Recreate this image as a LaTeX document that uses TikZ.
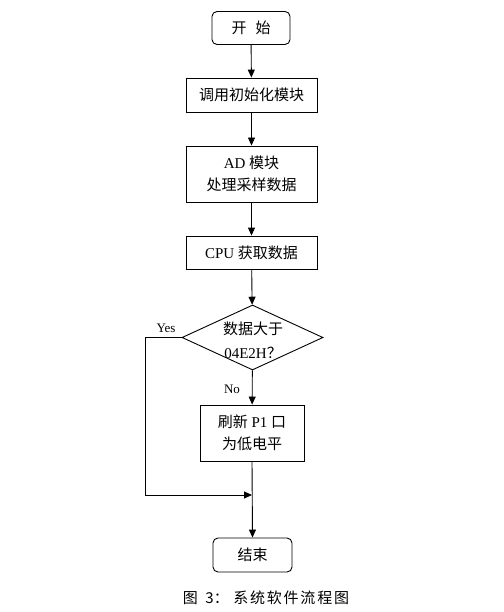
\documentclass[tikz,border=0pt]{standalone}
\usepackage{fontspec}
\setmainfont{Liberation Serif}
\newfontfamily\cjk{Noto Sans CJK SC}
\usetikzlibrary{shapes.geometric,arrows.meta}
\tikzset{
  every picture/.style={x=1pt,y=-1pt},
  base/.style={draw=black,line width=0.9pt,align=center,font=\fontsize{15}{22}\selectfont,inner sep=0pt},
  term/.style={base,rounded corners=5pt,minimum width=78pt,minimum height=33pt},
  proc/.style={base,minimum width=131pt},
  dec/.style={draw=black,line width=0.9pt,shape=diamond,minimum width=141pt,minimum height=65pt,inner sep=0pt},
  flow/.style={line width=0.9pt,-{Triangle[length=8pt,width=7pt]}},
  lbl/.style={font=\fontsize{13}{14}\selectfont,inner sep=0pt}
}
\begin{document}
\begin{tikzpicture}
\useasboundingbox (0,0) rectangle (503,612);
\node[term] (start) at (251,28) {{\cjk 开\hspace{0.6em}始}};
\node[proc,minimum height=34pt] (init) at (251.5,95) {{\cjk 调用初始化模块}};
\node[proc,minimum height=56pt] (ad) at (251.5,174) {AD {\cjk 模块}\\{\cjk 处理采样数据}};
\node[proc,minimum height=33pt] (cpu) at (251.5,252.5) {CPU {\cjk 获取数据}};
\node[dec] (d) at (252.5,337.5) {};
\node[align=center,font=\fontsize{15}{24}\selectfont,inner sep=0pt] (dt) at (253,340) {{\cjk 数据大于}\\04E2H{\cjk ？}};
\node[proc,minimum width=104pt,minimum height=56pt] (p1) at (252,433) {{\cjk 刷新} P1 {\cjk 口}\\{\cjk 为低电平}};
\node[term,minimum width=79pt,minimum height=34pt] (end) at (252.5,555) {{\cjk 结束}};
\coordinate (yl) at (145,337.5);
\coordinate (yb) at (145,495);
\coordinate (m) at (252,495);
\node[lbl] (yes) at (166,328) {Yes};
\node[lbl] (no) at (232,389) {No};
\node[font=\cjk\fontsize{15}{16}\selectfont,inner sep=0pt] (cap) at (266,598) {图\hspace{0.5em}3：\hspace{0.3em}系\hspace{0.12em}统\hspace{0.12em}软\hspace{0.12em}件\hspace{0.12em}流\hspace{0.12em}程\hspace{0.12em}图};
\draw[flow] (start) -- (init);
\draw[flow] (init) -- (ad);
\draw[flow] (ad) -- (cpu);
\draw[flow] (cpu) -- (d);
\draw[flow] (d) -- (p1);
\draw[flow] (p1.south) -- (end.north);
\draw[line width=1.8pt] (d.west) -- (yl);
\draw[flow] (yl) -- (yb) -- (m);
\end{tikzpicture}
\end{document}
